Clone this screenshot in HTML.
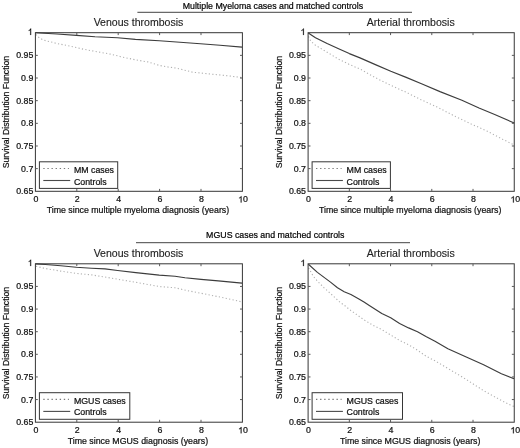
<!DOCTYPE html>
<html><head><meta charset="utf-8"><title>Survival curves</title>
<style>
html,body{margin:0;padding:0;background:#fff;}
body{width:520px;height:448px;overflow:hidden;}
svg{display:block;will-change:transform;}
text{font-family:"Liberation Sans",sans-serif;fill:#111;stroke:#111;stroke-width:0.22px;}
text.t{fill:#222;stroke:#222;stroke-width:0.12px;}
text.h{fill:#000;stroke:#000;stroke-width:0.2px;}
</style></head><body>
<svg width="520" height="448" viewBox="0 0 520 448">
<rect width="520" height="448" fill="#fff"/>
<text x="272.9" y="9.2" font-size="8.8" text-anchor="middle" class="h">Multiple Myeloma cases and matched controls</text>
<line x1="137.4" y1="12.3" x2="412" y2="12.3" stroke="#444" stroke-width="1"/>
<text x="275.3" y="237.9" font-size="8.8" text-anchor="middle" class="h">MGUS cases and matched controls</text>
<line x1="136" y1="242.7" x2="410" y2="242.7" stroke="#444" stroke-width="1"/>
<g>
<text x="138.50" y="26.35" font-size="10.55" text-anchor="middle" class="t">Venous thrombosis</text>
<polyline fill="none" stroke="#b0b0b0" stroke-width="1.1" stroke-dasharray="1.2 2.3" points="35.8,34.5 39.0,37.6 43.5,40.1 57.0,43.5 70.4,46.2 83.8,49.3 97.3,51.8 111.0,54.2 122.0,57.0 135.8,59.9 147.7,61.9 159.3,65.4 168.0,67.0 176.3,68.1 192.7,72.2 209.0,73.9 225.4,75.5 238.5,77.1 242.0,77.8"/>
<polyline fill="none" stroke="#3c3c3c" stroke-width="1.15" stroke-linejoin="round" points="35.4,32.8 57.0,34.0 76.5,35.4 95.0,36.8 117.5,37.7 135.4,39.4 159.3,40.8 180.0,42.2 200.4,43.7 220.0,45.3 242.0,47.1"/>
<rect x="35.40" y="32.70" width="207.00" height="158.60" fill="none" stroke="#363636" stroke-width="1"/>
<path d="M35.40 55.36h2.4M242.40 55.36h-2.4M35.40 78.01h2.4M242.40 78.01h-2.4M35.40 100.67h2.4M242.40 100.67h-2.4M35.40 123.33h2.4M242.40 123.33h-2.4M35.40 145.99h2.4M242.40 145.99h-2.4M35.40 168.64h2.4M242.40 168.64h-2.4M76.80 191.30v-2.4M76.80 32.70v2.4M118.20 191.30v-2.4M118.20 32.70v2.4M159.60 191.30v-2.4M159.60 32.70v2.4M201.00 191.30v-2.4M201.00 32.70v2.4" stroke="#5a5a5a" stroke-width="1" fill="none"/>
<path transform="translate(27.81 34.90) scale(0.00430 -0.00430)" d="M763 0H583V1147Q518 1085 412.5 1023T223 930V1104Q373 1174.5 485.5 1275T645 1470H763Z" fill="#111" stroke="#111" stroke-width="0.22" vector-effect="non-scaling-stroke"/><text x="33.30" y="58.36" font-size="8.8" text-anchor="end">0.95</text><text x="33.30" y="81.01" font-size="8.8" text-anchor="end">0.9</text><text x="33.30" y="103.67" font-size="8.8" text-anchor="end">0.85</text><text x="33.30" y="126.33" font-size="8.8" text-anchor="end">0.8</text><text x="33.30" y="148.99" font-size="8.8" text-anchor="end">0.75</text><text x="33.30" y="171.64" font-size="8.8" text-anchor="end">0.7</text><text x="33.30" y="193.90" font-size="8.8" text-anchor="end">0.65</text>
<text x="35.85" y="202.45" font-size="8.8" text-anchor="middle">0</text><text x="77.25" y="202.45" font-size="8.8" text-anchor="middle">2</text><text x="118.65" y="202.45" font-size="8.8" text-anchor="middle">4</text><text x="160.05" y="202.45" font-size="8.8" text-anchor="middle">6</text><text x="201.45" y="202.45" font-size="8.8" text-anchor="middle">8</text><path transform="translate(238.21 202.45) scale(0.00430 -0.00430)" d="M763 0H583V1147Q518 1085 412.5 1023T223 930V1104Q373 1174.5 485.5 1275T645 1470H763Z" fill="#111" stroke="#111" stroke-width="0.22" vector-effect="non-scaling-stroke"/><text x="243.10" y="202.45" font-size="8.8">0</text>
<text x="137.90" y="212.70" font-size="8.8" text-anchor="middle">Time since multiple myeloma diagnosis (years)</text>
<text transform="translate(9.10 112.10) rotate(-90)" font-size="8.7" text-anchor="middle">Survival Distribution Function</text>
<rect x="39.40" y="161.80" width="78.30" height="26.60" fill="#fff" stroke="#363636" stroke-width="1"/>
<line x1="43.30" y1="168.50" x2="68.90" y2="168.50" stroke="#787878" stroke-width="1.15" stroke-dasharray="1.35 2.75"/>
<line x1="43.30" y1="180.50" x2="70.20" y2="180.50" stroke="#4a4a4a" stroke-width="1.1"/>
<text x="73.90" y="172.75" font-size="8.8">MM cases</text><text x="73.90" y="184.55" font-size="8.8">Controls</text>
</g>
<g>
<text x="410.78" y="26.35" font-size="10.55" text-anchor="middle" class="t">Arterial thrombosis</text>
<polyline fill="none" stroke="#b0b0b0" stroke-width="1.1" stroke-dasharray="1.2 2.3" points="308.5,36.5 310.9,41.3 315.5,45.3 327.1,52.2 338.6,59.2 350.2,64.9 360.0,69.0 375.4,77.7 390.8,85.4 406.2,92.3 421.5,100.0 436.9,106.9 455.6,116.6 471.2,124.0 486.9,131.0 502.5,139.2 514.2,145.0"/>
<polyline fill="none" stroke="#3c3c3c" stroke-width="1.15" stroke-linejoin="round" points="308.3,32.9 315.5,37.8 327.1,43.6 338.6,48.8 349.3,53.6 360.0,57.9 375.4,64.6 390.8,71.2 406.2,77.4 421.5,83.8 440.0,91.6 461.9,100.2 479.0,108.0 494.7,114.5 514.2,123.0"/>
<rect x="308.10" y="32.70" width="206.15" height="158.60" fill="none" stroke="#363636" stroke-width="1"/>
<path d="M308.10 55.36h2.4M514.25 55.36h-2.4M308.10 78.01h2.4M514.25 78.01h-2.4M308.10 100.67h2.4M514.25 100.67h-2.4M308.10 123.33h2.4M514.25 123.33h-2.4M308.10 145.99h2.4M514.25 145.99h-2.4M308.10 168.64h2.4M514.25 168.64h-2.4M349.33 191.30v-2.4M349.33 32.70v2.4M390.56 191.30v-2.4M390.56 32.70v2.4M431.79 191.30v-2.4M431.79 32.70v2.4M473.02 191.30v-2.4M473.02 32.70v2.4" stroke="#5a5a5a" stroke-width="1" fill="none"/>
<path transform="translate(300.51 34.90) scale(0.00430 -0.00430)" d="M763 0H583V1147Q518 1085 412.5 1023T223 930V1104Q373 1174.5 485.5 1275T645 1470H763Z" fill="#111" stroke="#111" stroke-width="0.22" vector-effect="non-scaling-stroke"/><text x="306.00" y="58.36" font-size="8.8" text-anchor="end">0.95</text><text x="306.00" y="81.01" font-size="8.8" text-anchor="end">0.9</text><text x="306.00" y="103.67" font-size="8.8" text-anchor="end">0.85</text><text x="306.00" y="126.33" font-size="8.8" text-anchor="end">0.8</text><text x="306.00" y="148.99" font-size="8.8" text-anchor="end">0.75</text><text x="306.00" y="171.64" font-size="8.8" text-anchor="end">0.7</text><text x="306.00" y="193.90" font-size="8.8" text-anchor="end">0.65</text>
<text x="308.55" y="202.45" font-size="8.8" text-anchor="middle">0</text><text x="349.78" y="202.45" font-size="8.8" text-anchor="middle">2</text><text x="391.01" y="202.45" font-size="8.8" text-anchor="middle">4</text><text x="432.24" y="202.45" font-size="8.8" text-anchor="middle">6</text><text x="473.47" y="202.45" font-size="8.8" text-anchor="middle">8</text><path transform="translate(510.46 202.45) scale(0.00430 -0.00430)" d="M763 0H583V1147Q518 1085 412.5 1023T223 930V1104Q373 1174.5 485.5 1275T645 1470H763Z" fill="#111" stroke="#111" stroke-width="0.22" vector-effect="non-scaling-stroke"/><text x="515.35" y="202.45" font-size="8.8">0</text>
<text x="410.18" y="212.70" font-size="8.8" text-anchor="middle">Time since multiple myeloma diagnosis (years)</text>
<text transform="translate(281.80 112.10) rotate(-90)" font-size="8.7" text-anchor="middle">Survival Distribution Function</text>
<rect x="312.10" y="161.80" width="78.30" height="26.60" fill="#fff" stroke="#363636" stroke-width="1"/>
<line x1="316.00" y1="168.50" x2="341.60" y2="168.50" stroke="#787878" stroke-width="1.15" stroke-dasharray="1.35 2.75"/>
<line x1="316.00" y1="180.50" x2="342.90" y2="180.50" stroke="#4a4a4a" stroke-width="1.1"/>
<text x="346.60" y="172.75" font-size="8.8">MM cases</text><text x="346.60" y="184.55" font-size="8.8">Controls</text>
</g>
<g>
<text x="138.50" y="257.45" font-size="10.55" text-anchor="middle" class="t">Venous thrombosis</text>
<polyline fill="none" stroke="#b0b0b0" stroke-width="1.1" stroke-dasharray="1.2 2.3" points="36.0,266.3 45.4,268.5 60.8,271.1 76.2,273.4 91.5,274.9 106.0,277.2 117.6,279.2 135.8,282.3 159.2,286.5 175.0,287.8 189.4,291.0 203.8,293.8 218.3,296.7 238.5,301.1 242.0,302.0"/>
<polyline fill="none" stroke="#3c3c3c" stroke-width="1.15" stroke-linejoin="round" points="35.4,263.9 45.4,264.5 60.8,265.7 76.2,267.2 91.5,268.2 105.0,268.9 117.6,270.5 135.8,272.6 159.2,275.1 175.0,276.3 185.0,277.7 201.0,279.4 218.3,280.9 242.0,283.1"/>
<rect x="35.40" y="263.80" width="207.00" height="158.40" fill="none" stroke="#363636" stroke-width="1"/>
<path d="M35.40 286.43h2.4M242.40 286.43h-2.4M35.40 309.06h2.4M242.40 309.06h-2.4M35.40 331.69h2.4M242.40 331.69h-2.4M35.40 354.31h2.4M242.40 354.31h-2.4M35.40 376.94h2.4M242.40 376.94h-2.4M35.40 399.57h2.4M242.40 399.57h-2.4M76.80 422.20v-2.4M76.80 263.80v2.4M118.20 422.20v-2.4M118.20 263.80v2.4M159.60 422.20v-2.4M159.60 263.80v2.4M201.00 422.20v-2.4M201.00 263.80v2.4" stroke="#5a5a5a" stroke-width="1" fill="none"/>
<path transform="translate(27.81 266.00) scale(0.00430 -0.00430)" d="M763 0H583V1147Q518 1085 412.5 1023T223 930V1104Q373 1174.5 485.5 1275T645 1470H763Z" fill="#111" stroke="#111" stroke-width="0.22" vector-effect="non-scaling-stroke"/><text x="33.30" y="289.43" font-size="8.8" text-anchor="end">0.95</text><text x="33.30" y="312.06" font-size="8.8" text-anchor="end">0.9</text><text x="33.30" y="334.69" font-size="8.8" text-anchor="end">0.85</text><text x="33.30" y="357.31" font-size="8.8" text-anchor="end">0.8</text><text x="33.30" y="379.94" font-size="8.8" text-anchor="end">0.75</text><text x="33.30" y="402.57" font-size="8.8" text-anchor="end">0.7</text><text x="33.30" y="424.80" font-size="8.8" text-anchor="end">0.65</text>
<text x="35.85" y="433.35" font-size="8.8" text-anchor="middle">0</text><text x="77.25" y="433.35" font-size="8.8" text-anchor="middle">2</text><text x="118.65" y="433.35" font-size="8.8" text-anchor="middle">4</text><text x="160.05" y="433.35" font-size="8.8" text-anchor="middle">6</text><text x="201.45" y="433.35" font-size="8.8" text-anchor="middle">8</text><path transform="translate(238.21 433.35) scale(0.00430 -0.00430)" d="M763 0H583V1147Q518 1085 412.5 1023T223 930V1104Q373 1174.5 485.5 1275T645 1470H763Z" fill="#111" stroke="#111" stroke-width="0.22" vector-effect="non-scaling-stroke"/><text x="243.10" y="433.35" font-size="8.8">0</text>
<text x="137.90" y="443.60" font-size="8.8" text-anchor="middle">Time since MGUS diagnosis (years)</text>
<text transform="translate(9.10 343.10) rotate(-90)" font-size="8.7" text-anchor="middle">Survival Distribution Function</text>
<rect x="39.40" y="392.70" width="90.40" height="26.60" fill="#fff" stroke="#363636" stroke-width="1"/>
<line x1="43.30" y1="399.40" x2="68.90" y2="399.40" stroke="#787878" stroke-width="1.15" stroke-dasharray="1.35 2.75"/>
<line x1="43.30" y1="411.40" x2="70.20" y2="411.40" stroke="#4a4a4a" stroke-width="1.1"/>
<text x="73.90" y="403.65" font-size="8.8">MGUS cases</text><text x="73.90" y="415.45" font-size="8.8">Controls</text>
</g>
<g>
<text x="410.78" y="257.45" font-size="10.55" text-anchor="middle" class="t">Arterial thrombosis</text>
<polyline fill="none" stroke="#b0b0b0" stroke-width="1.1" stroke-dasharray="1.2 2.3" points="308.6,268.0 313.4,276.4 317.4,281.1 324.1,287.8 330.8,293.8 340.2,302.5 344.2,305.2 350.9,310.6 357.6,315.2 363.9,319.8 372.9,325.2 381.8,329.6 390.7,335.0 399.6,340.4 408.6,344.8 417.5,350.2 426.4,356.4 433.6,360.0 447.9,368.4 465.7,379.1 483.6,390.7 501.4,400.5 510.4,405.0 514.0,406.5"/>
<polyline fill="none" stroke="#3c3c3c" stroke-width="1.15" stroke-linejoin="round" points="308.4,264.3 317.4,272.4 330.8,282.4 337.5,287.8 344.2,291.8 350.9,294.5 357.6,298.2 364.0,302.1 369.3,305.5 381.8,313.6 390.7,317.7 399.6,323.4 408.6,327.9 417.5,331.8 426.4,336.8 435.0,341.2 447.9,348.8 465.7,356.8 483.6,364.8 501.4,373.8 514.0,378.7"/>
<rect x="308.10" y="263.80" width="206.15" height="158.40" fill="none" stroke="#363636" stroke-width="1"/>
<path d="M308.10 286.43h2.4M514.25 286.43h-2.4M308.10 309.06h2.4M514.25 309.06h-2.4M308.10 331.69h2.4M514.25 331.69h-2.4M308.10 354.31h2.4M514.25 354.31h-2.4M308.10 376.94h2.4M514.25 376.94h-2.4M308.10 399.57h2.4M514.25 399.57h-2.4M349.33 422.20v-2.4M349.33 263.80v2.4M390.56 422.20v-2.4M390.56 263.80v2.4M431.79 422.20v-2.4M431.79 263.80v2.4M473.02 422.20v-2.4M473.02 263.80v2.4" stroke="#5a5a5a" stroke-width="1" fill="none"/>
<path transform="translate(300.51 266.00) scale(0.00430 -0.00430)" d="M763 0H583V1147Q518 1085 412.5 1023T223 930V1104Q373 1174.5 485.5 1275T645 1470H763Z" fill="#111" stroke="#111" stroke-width="0.22" vector-effect="non-scaling-stroke"/><text x="306.00" y="289.43" font-size="8.8" text-anchor="end">0.95</text><text x="306.00" y="312.06" font-size="8.8" text-anchor="end">0.9</text><text x="306.00" y="334.69" font-size="8.8" text-anchor="end">0.85</text><text x="306.00" y="357.31" font-size="8.8" text-anchor="end">0.8</text><text x="306.00" y="379.94" font-size="8.8" text-anchor="end">0.75</text><text x="306.00" y="402.57" font-size="8.8" text-anchor="end">0.7</text><text x="306.00" y="424.80" font-size="8.8" text-anchor="end">0.65</text>
<text x="308.55" y="433.35" font-size="8.8" text-anchor="middle">0</text><text x="349.78" y="433.35" font-size="8.8" text-anchor="middle">2</text><text x="391.01" y="433.35" font-size="8.8" text-anchor="middle">4</text><text x="432.24" y="433.35" font-size="8.8" text-anchor="middle">6</text><text x="473.47" y="433.35" font-size="8.8" text-anchor="middle">8</text><path transform="translate(510.46 433.35) scale(0.00430 -0.00430)" d="M763 0H583V1147Q518 1085 412.5 1023T223 930V1104Q373 1174.5 485.5 1275T645 1470H763Z" fill="#111" stroke="#111" stroke-width="0.22" vector-effect="non-scaling-stroke"/><text x="515.35" y="433.35" font-size="8.8">0</text>
<text x="410.18" y="443.60" font-size="8.8" text-anchor="middle">Time since MGUS diagnosis (years)</text>
<text transform="translate(281.80 343.10) rotate(-90)" font-size="8.7" text-anchor="middle">Survival Distribution Function</text>
<rect x="312.10" y="392.70" width="90.40" height="26.60" fill="#fff" stroke="#363636" stroke-width="1"/>
<line x1="316.00" y1="399.40" x2="341.60" y2="399.40" stroke="#787878" stroke-width="1.15" stroke-dasharray="1.35 2.75"/>
<line x1="316.00" y1="411.40" x2="342.90" y2="411.40" stroke="#4a4a4a" stroke-width="1.1"/>
<text x="346.60" y="403.65" font-size="8.8">MGUS cases</text><text x="346.60" y="415.45" font-size="8.8">Controls</text>
</g>
</svg>
</body></html>
